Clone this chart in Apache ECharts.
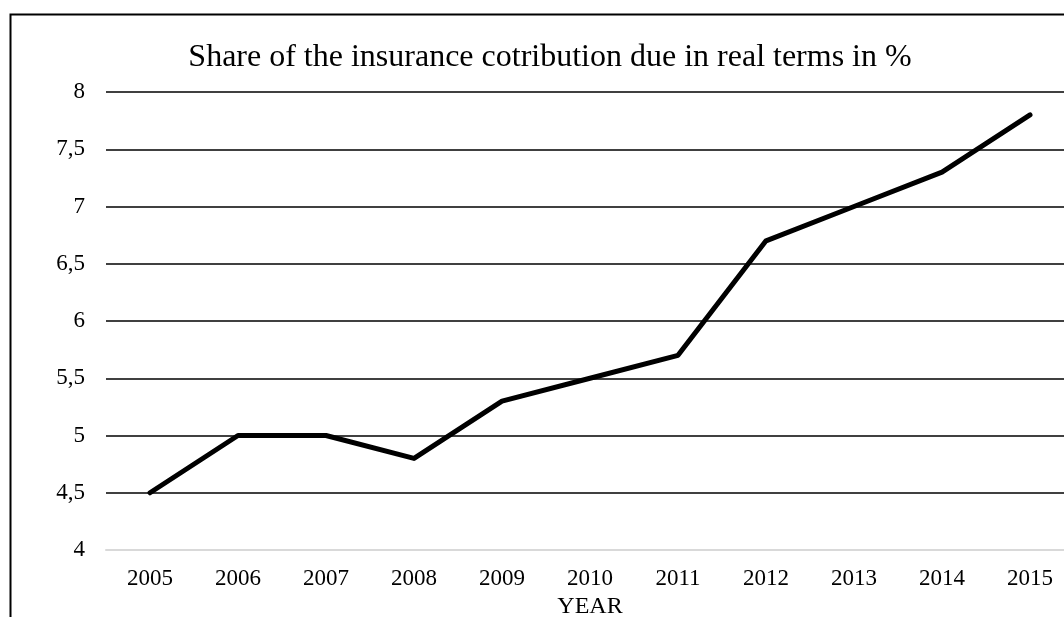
<!DOCTYPE html>
<html>
<head>
<meta charset="utf-8">
<script src="https://cdn.jsdelivr.net/npm/echarts@6/dist/echarts.min.js"></script>
<style>html,body{margin:0;padding:0;background:#fff;overflow:hidden}#c{width:1074px;height:617px}</style>
</head>
<body>
<div id="c"></div>
<script>
var years = ['2005','2006','2007','2008','2009','2010','2011','2012','2013','2014','2015'];
var share = [4.5, 5, 5, 4.8, 5.3, 5.5, 5.7, 6.7, 7, 7.3, 7.8];
var titleText = 'Share of the insurance cotribution due in real terms in %';
var xName = 'YEAR';

var font = '"Liberation Serif", "Times New Roman", serif';
var chart = echarts.init(document.getElementById('c'), null, {renderer: 'canvas'});
chart.setOption({
  animation: false,
  backgroundColor: '#fff',
  title: {
    text: titleText,
    left: 545, top: 37, textAlign: 'center',
    textStyle: {fontFamily: font, fontSize: 32, fontWeight: 'normal', color: '#000'}
  },
  graphic: [{
    type: 'rect', shape: {x: 10.5, y: 14.5, width: 1200, height: 800},
    style: {fill: 'none', stroke: '#000', lineWidth: 2}, silent: true, z: 100
  }],
  grid: {left: 106, top: 92, bottom: 67, right: 0, containLabel: false, outerBoundsMode: 'none'},
  xAxis: {
    type: 'category', data: years, boundaryGap: true,
    name: xName, nameLocation: 'middle', nameGap: 43,
    nameTextStyle: {fontFamily: font, fontSize: 24, color: '#000'},
    axisLine: {lineStyle: {color: '#d9d9d9', width: 2}},
    axisTick: {show: false},
    axisLabel: {fontFamily: font, fontSize: 23, color: '#000', margin: 17}
  },
  yAxis: {
    type: 'value', min: 4, max: 8, interval: 0.5,
    axisLine: {show: false}, axisTick: {show: false},
    axisLabel: {fontFamily: font, fontSize: 23, color: '#000', margin: 21,
      formatter: function (v) { return String(v).replace('.', ','); }},
    splitLine: {lineStyle: {color: '#000', width: 1.5}}
  },
  series: [{
    type: 'line', data: share, symbol: 'none',
    lineStyle: {color: '#000', width: 5, cap: 'round', join: 'round'}
  }]
});
</script>
</body>
</html>
